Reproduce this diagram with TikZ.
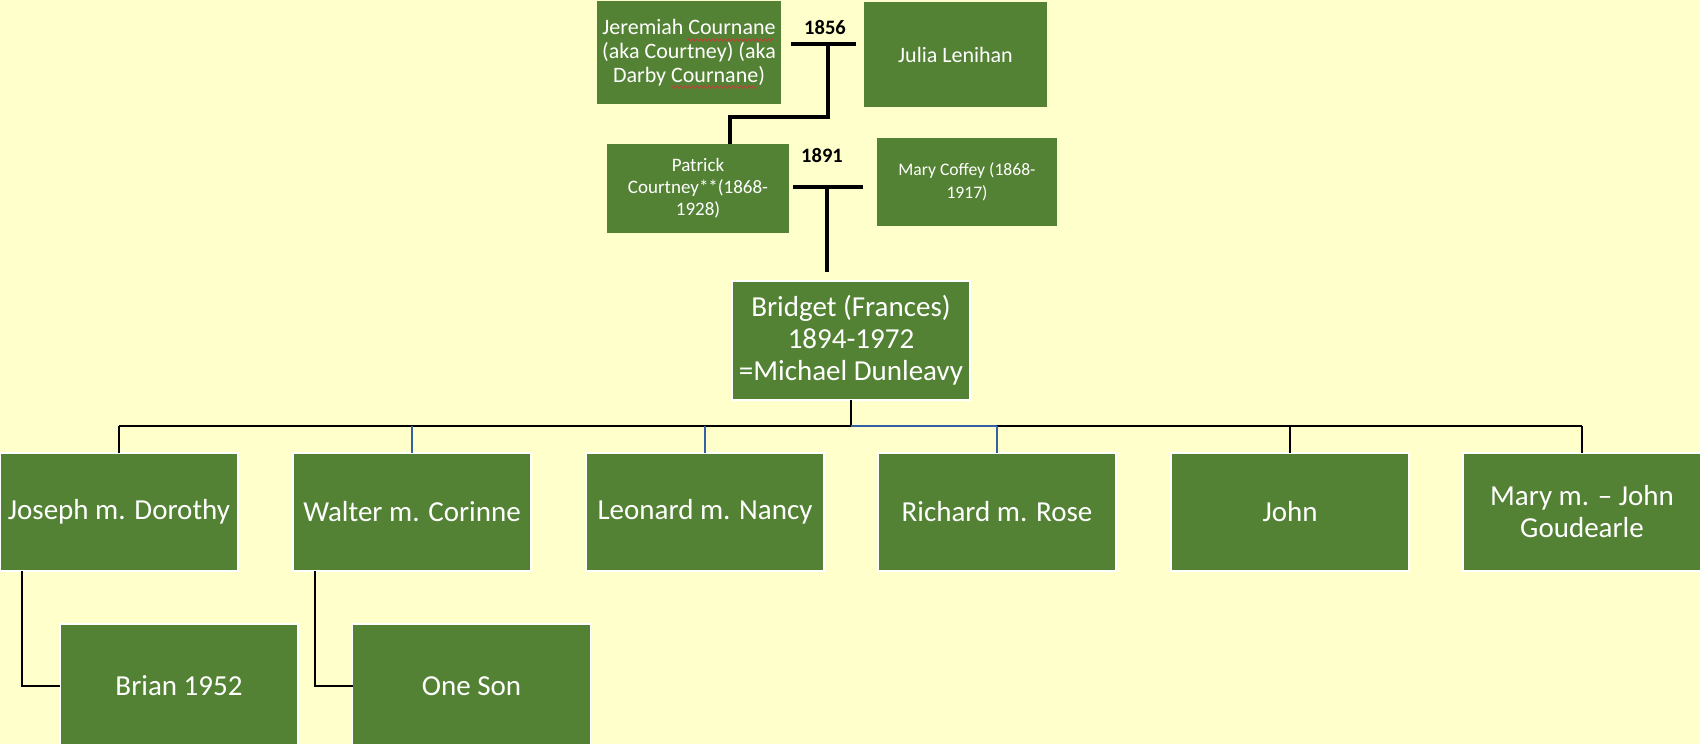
\documentclass[tikz,border=0pt]{standalone}
\usepackage{fontspec}
\setmainfont{Carlito}
\usetikzlibrary{decorations.pathmorphing}
\definecolor{paper}{HTML}{FFFFCC}
\definecolor{leaf}{HTML}{548235}
\definecolor{lineblue}{HTML}{3560A6}
\definecolor{spellred}{HTML}{C83C3C}

\begin{document}
\begin{tikzpicture}[x=1pt,y=-1pt,
  person/.style 2 args={rectangle, draw=white, line width=1.5pt, fill=leaf,
    text=white, inner sep=2pt, outer sep=0pt, align=center,
    minimum width=#1, minimum height=#2},
  bigtext/.style={font=\fontsize{29}{32}\selectfont},
  midtext/.style={font=\fontsize{22}{24}\selectfont},
  smalltext/.style={font=\fontsize{19}{22}\selectfont},
  tinytext/.style={font=\fontsize{17.6}{23}\selectfont},
  year/.style={text=black, inner sep=0pt, font=\fontsize{20.5}{24}\selectfont\bfseries},
  wedbar/.style={draw=black, line width=4pt},
  descent/.style={draw=black, line width=3.5pt, line join=miter},
  kin/.style={draw=black, line width=2pt, line join=miter},
  kinblue/.style={draw=lineblue, line width=2pt},
  spell/.style={draw=spellred, line width=0.9pt, decorate,
    decoration={snake, segment length=4pt, amplitude=1pt}}
]
\useasboundingbox (0,0) rectangle (1700,744);
\fill[paper] (0,0) rectangle (1700,744);

\begin{scope}
\clip (0,0) rectangle (1700,744);

% first generation
\node[person={184pt}{103pt}, draw=none, midtext] (jer) at (689,52.5)
  {Jeremiah Cournane\\(aka Courtney) (aka\\Darby Cournane)};
\node[person={183pt}{105pt}, draw=none, midtext] (julia) at (955.5,54.5)
  {Julia Lenihan};
\draw[spell] (687,40) -- (774,40);
\draw[spell] (671,87) -- (757,87);

% second generation
\node[person={182pt}{89pt}, draw=none, smalltext] (pat) at (698,188.5)
  {Patrick\\Courtney**(1868-\\1928)};
\node[person={180pt}{88pt}, draw=none, tinytext] (coffey) at (967,182)
  {Mary Coffey (1868-\\1917)};

% third generation
\node[person={238pt}{119pt}, bigtext] (bridget) at (851,340.5)
  {Bridget (Frances)\\1894-1972\\=Michael Dunleavy};

% fourth generation
\node[person={238pt}{118pt}, bigtext] (c1) at (119,512) {Joseph m. Dorothy};
\node[person={238pt}{118pt}, bigtext] (c2) at (412,512) {Walter m. Corinne};
\node[person={238pt}{118pt}, bigtext] (c3) at (705,512) {Leonard m. Nancy};
\node[person={238pt}{118pt}, bigtext] (c4) at (997,512) {Richard m. Rose};
\node[person={238pt}{118pt}, bigtext] (c5) at (1290,512) {John};
\node[person={238pt}{118pt}, bigtext] (c6) at (1582,512) {Mary m. -- John\\Goudearle};

% fifth generation
\node[person={238pt}{124pt}, bigtext] (brian) at (179,686) {Brian 1952};
\node[person={238pt}{124pt}, bigtext] (son) at (471.5,686) {One Son};

% marriage of Jeremiah and Julia
\node[year] (y1856) at (825,27) {1856};
\coordinate (wed1) at (823.5,44);
\coordinate (drop1) at (828,44);
\coordinate (bend1) at (730,117);
\draw[wedbar] ([xshift=-32.5pt]wed1) -- ([xshift=32.5pt]wed1);
\draw[descent] (drop1) |- (bend1) -- (bend1 |- pat.north);

% marriage of Patrick and Mary
\node[year] (y1891) at (822,155) {1891};
\coordinate (wed2) at (828,187);
\coordinate (drop2) at (827,187);
\coordinate (end2) at (827,272);
\draw[wedbar] ([xshift=-35pt]wed2) -- ([xshift=35pt]wed2);
\draw[descent] (drop2) -- (end2);

% Bridget's children
\coordinate (hub) at (bridget.south |- 0,426);
\draw[kin] (bridget.south) -- (hub);
\draw[kin] (c1.north |- hub) -- (c6.north |- hub);
\draw[kin] (c1.north |- hub) -- (c1.north);
\draw[kin] (c5.north |- hub) -- (c5.north);
\draw[kin] (c6.north |- hub) -- (c6.north);
\draw[kinblue] (hub) -- (c4.north |- hub);
\draw[kinblue] (c2.north |- hub) -- (c2.north);
\draw[kinblue] (c3.north |- hub) -- (c3.north);
\draw[kinblue] (c4.north |- hub) -- (c4.north);

% grandchildren
\draw[kin] ([xshift=-97pt]c1.south) |- (brian.west);
\draw[kin] ([xshift=-97pt]c2.south) |- (son.west);
\end{scope}
\end{tikzpicture}
\end{document}
